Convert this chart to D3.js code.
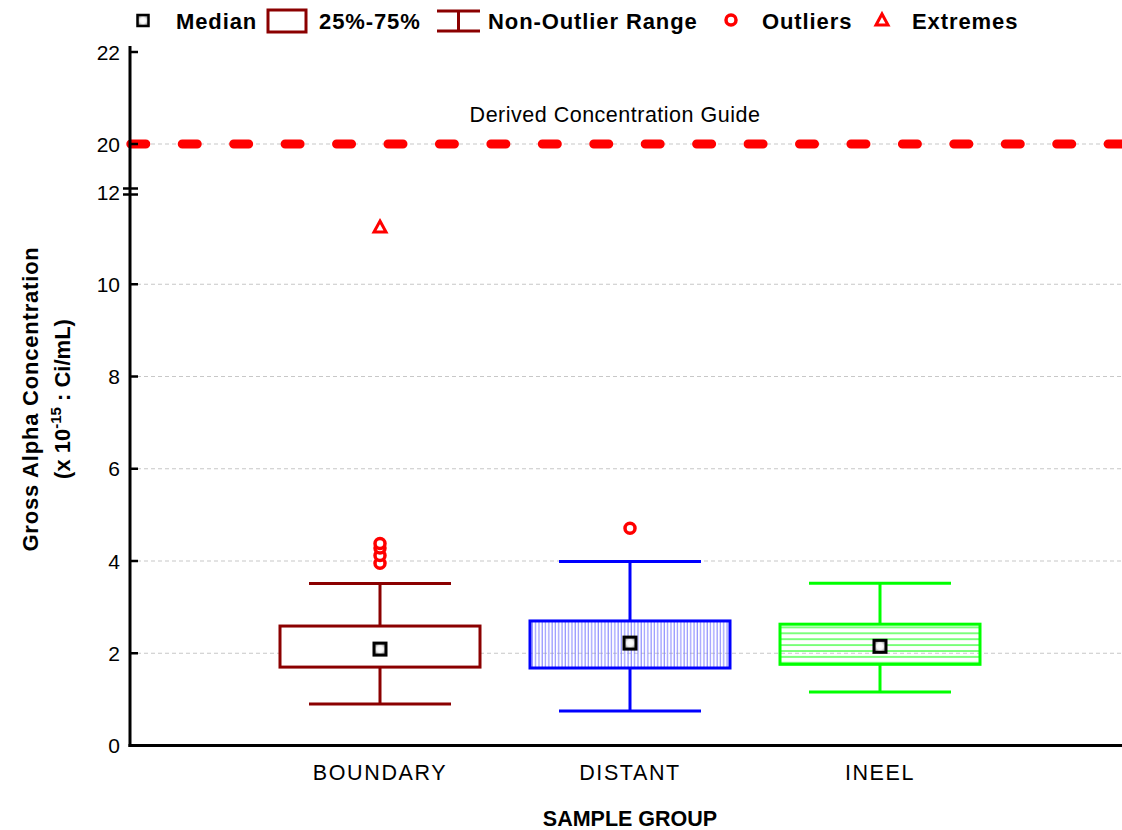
<!DOCTYPE html>
<html>
<head>
<meta charset="utf-8">
<script src="https://cdn.jsdelivr.net/npm/d3@7"></script>
<style>
  html, body { margin: 0; padding: 0; background: #fff; }
  svg { display: block; font-family: Arial, "Liberation Sans", sans-serif; }
</style>
</head>
<body>
<svg id="chart" width="1122" height="830"></svg>
<script>
// Sample groups and their box-plot statistics (x 10^-15 Ci/mL)
const groups = ["BOUNDARY", "DISTANT", "INEEL"];
const medians = [2.09, 2.22, 2.15];
const q1 = [1.70, 1.68, 1.76];
const q3 = [2.59, 2.70, 2.63];
const whiskerLow = [0.90, 0.75, 1.16];
const whiskerHigh = [3.51, 3.99, 3.52];
const outliers = [[3.95, 4.12, 4.28, 4.38], [4.71], []];
const extremes = [[11.24], [], []];
const guideValue = 20;
const yTicks = [0, 2, 4, 6, 8, 10, 12, 20, 22];
const gridTicks = [2, 4, 6, 8, 10, 20];
const legendLabels = ["Median", "25%-75%", "Non-Outlier Range", "Outliers", "Extremes"];

const strokeColors = ["#8b0000", "#0000ff", "#00ff00"];

const svg = d3.select("#chart");
const left = 130, right = 1122;

// Broken axis: 0-12 below the break, 19-22 above it
const y = d3.scaleLinear().domain([0, 12, 19, 22]).range([745.5, 192, 190, 52]);
const x = d3.scalePoint().domain(groups).range([130, 1130]).padding(1);

const defs = svg.append("defs");
const pv = defs.append("pattern").attr("id", "vlines").attr("patternUnits", "userSpaceOnUse")
  .attr("width", 3.3).attr("height", 10);
pv.append("line").attr("x1", 1).attr("x2", 1).attr("y1", 0).attr("y2", 10)
  .attr("stroke", "#8080ff").attr("stroke-width", 1);
const ph = defs.append("pattern").attr("id", "hlines").attr("patternUnits", "userSpaceOnUse")
  .attr("width", 10).attr("height", 5.9).attr("y", 0);
ph.append("line").attr("x1", 0).attr("x2", 10).attr("y1", 2).attr("y2", 2)
  .attr("stroke", "#70ff70").attr("stroke-width", 1.8);
const rg = defs.append("radialGradient").attr("id", "medfill");
rg.append("stop").attr("offset", "0%").attr("stop-color", "#ffffff");
rg.append("stop").attr("offset", "55%").attr("stop-color", "#f4f4f4");
rg.append("stop").attr("offset", "100%").attr("stop-color", "#9a9a9a");
const fills = ["#ffffff", "url(#vlines)", "url(#hlines)"];

// Grid lines
svg.append("g").selectAll("line").data(gridTicks).join("line")
  .attr("x1", left).attr("x2", right)
  .attr("y1", d => y(d)).attr("y2", d => y(d))
  .attr("stroke", "#c8c8c8").attr("stroke-width", 1.2).attr("stroke-dasharray", "4 3");

// Guide line
svg.append("line")
  .attr("x1", 130.8).attr("x2", right + 10)
  .attr("y1", y(guideValue)).attr("y2", y(guideValue))
  .attr("stroke", "#ff0000").attr("stroke-width", 9).attr("stroke-linecap", "round")
  .attr("stroke-dasharray", "15 36.44");
svg.append("text").attr("x", 615).attr("y", 122).attr("text-anchor", "middle")
  .attr("font-size", 21.5).attr("letter-spacing", 0.5).attr("fill", "#000").text("Derived Concentration Guide");

// Boxes
const boxW = 200, capW = 142;
const g = svg.append("g");
groups.forEach((name, i) => {
  const cx = x(name);
  const c = strokeColors[i];
  g.append("line").attr("x1", cx).attr("x2", cx).attr("y1", y(whiskerHigh[i])).attr("y2", y(q3[i]))
    .attr("stroke", c).attr("stroke-width", 3);
  g.append("line").attr("x1", cx).attr("x2", cx).attr("y1", y(q1[i])).attr("y2", y(whiskerLow[i]))
    .attr("stroke", c).attr("stroke-width", 3);
  [whiskerHigh[i], whiskerLow[i]].forEach(v => {
    g.append("line").attr("x1", cx - capW / 2).attr("x2", cx + capW / 2)
      .attr("y1", y(v)).attr("y2", y(v)).attr("stroke", c).attr("stroke-width", 3);
  });
  g.append("rect").attr("x", cx - boxW / 2).attr("y", y(q3[i]))
    .attr("width", boxW).attr("height", y(q1[i]) - y(q3[i]))
    .attr("fill", fills[i]).attr("stroke", c).attr("stroke-width", 3);
  g.append("rect").attr("x", cx - 6).attr("y", y(medians[i]) - 6).attr("width", 12).attr("height", 12)
    .attr("fill", "url(#medfill)").attr("stroke", "#000").attr("stroke-width", 3);
  outliers[i].forEach(v => {
    g.append("circle").attr("cx", cx).attr("cy", y(v)).attr("r", 5)
      .attr("fill", "#fff").attr("stroke", "#ff0000").attr("stroke-width", 3.5);
  });
  extremes[i].forEach(v => {
    const cy = y(v);
    g.append("path").attr("d", `M${cx},${cy - 6} L${cx + 6},${cy + 5} L${cx - 6},${cy + 5} Z`)
      .attr("fill", "#fff").attr("stroke", "#ff0000").attr("stroke-width", 3);
  });
});

// Axes
svg.append("line").attr("x1", left).attr("x2", left).attr("y1", 46).attr("y2", 747)
  .attr("stroke", "#000").attr("stroke-width", 3);
svg.append("line").attr("x1", left - 1.5).attr("x2", right).attr("y1", 745.5).attr("y2", 745.5)
  .attr("stroke", "#000").attr("stroke-width", 3);
svg.append("g").selectAll("line").data(yTicks.filter(d => d !== 0 && d !== 12)).join("line")
  .attr("x1", left).attr("x2", left + 8).attr("y1", d => y(d)).attr("y2", d => y(d))
  .attr("stroke", "#000").attr("stroke-width", 2.5);
// Axis break marks
[188.5, 194.5].forEach(yy => {
  svg.append("line").attr("x1", left - 7).attr("x2", left + 8).attr("y1", yy).attr("y2", yy)
    .attr("stroke", "#000").attr("stroke-width", 2.5);
});
svg.append("g").selectAll("text").data(yTicks).join("text")
  .attr("x", 120).attr("y", d => y(d)).attr("dy", "0.36em").attr("text-anchor", "end")
  .attr("font-size", 21).text(d => d);

svg.append("g").selectAll("text").data(groups).join("text")
  .attr("x", d => x(d)).attr("y", 780).attr("text-anchor", "middle")
  .attr("font-size", 21.5).attr("letter-spacing", 1.6).text(d => d);

svg.append("text").attr("x", 630).attr("y", 826).attr("text-anchor", "middle")
  .attr("font-size", 21.5).attr("font-weight", "bold").text("SAMPLE GROUP");

// Y title
svg.append("text").attr("transform", "translate(38,399) rotate(-90)")
  .attr("text-anchor", "middle").attr("font-size", 22).attr("font-weight", "bold")
  .attr("letter-spacing", 0.8)
  .text("Gross Alpha Concentration");
const yt2 = svg.append("text").attr("transform", "translate(70,399) rotate(-90)")
  .attr("text-anchor", "middle").attr("font-size", 22).attr("font-weight", "bold");
yt2.append("tspan").text("(x 10");
yt2.append("tspan").attr("font-size", 15).attr("dy", -9).text("-15");
yt2.append("tspan").attr("dy", 9).text(" : Ci/mL)");

// Legend
const lg = svg.append("g").attr("font-size", 22).attr("font-weight", "bold").attr("letter-spacing", 0.9);
const ly = 21;
lg.append("rect").attr("x", 137.5).attr("y", ly - 6).attr("width", 11).attr("height", 11)
  .attr("fill", "url(#medfill)").attr("stroke", "#000").attr("stroke-width", 2.5);
lg.append("text").attr("x", 176).attr("y", ly + 8).text(legendLabels[0]);
lg.append("rect").attr("x", 268).attr("y", 10).attr("width", 38).attr("height", 22)
  .attr("fill", "#fff").attr("stroke", "#8b0000").attr("stroke-width", 3);
lg.append("text").attr("x", 319).attr("y", ly + 8).text(legendLabels[1]);
lg.append("line").attr("x1", 437).attr("x2", 480).attr("y1", 11).attr("y2", 11).attr("stroke", "#8b0000").attr("stroke-width", 3);
lg.append("line").attr("x1", 437).attr("x2", 480).attr("y1", 31).attr("y2", 31).attr("stroke", "#8b0000").attr("stroke-width", 3);
lg.append("line").attr("x1", 458.5).attr("x2", 458.5).attr("y1", 11).attr("y2", 31).attr("stroke", "#8b0000").attr("stroke-width", 3);
lg.append("text").attr("x", 488).attr("y", ly + 8).text(legendLabels[2]);
lg.append("circle").attr("cx", 731).attr("cy", ly - 1).attr("r", 5)
  .attr("fill", "#fff").attr("stroke", "#ff0000").attr("stroke-width", 3.5);
lg.append("text").attr("x", 762).attr("y", ly + 8).text(legendLabels[3]);
lg.append("path").attr("d", `M882,${ly - 7} L888,${ly + 4} L876,${ly + 4} Z`)
  .attr("fill", "#fff").attr("stroke", "#ff0000").attr("stroke-width", 3);
lg.append("text").attr("x", 912).attr("y", ly + 8).text(legendLabels[4]);
</script>
</body>
</html>
